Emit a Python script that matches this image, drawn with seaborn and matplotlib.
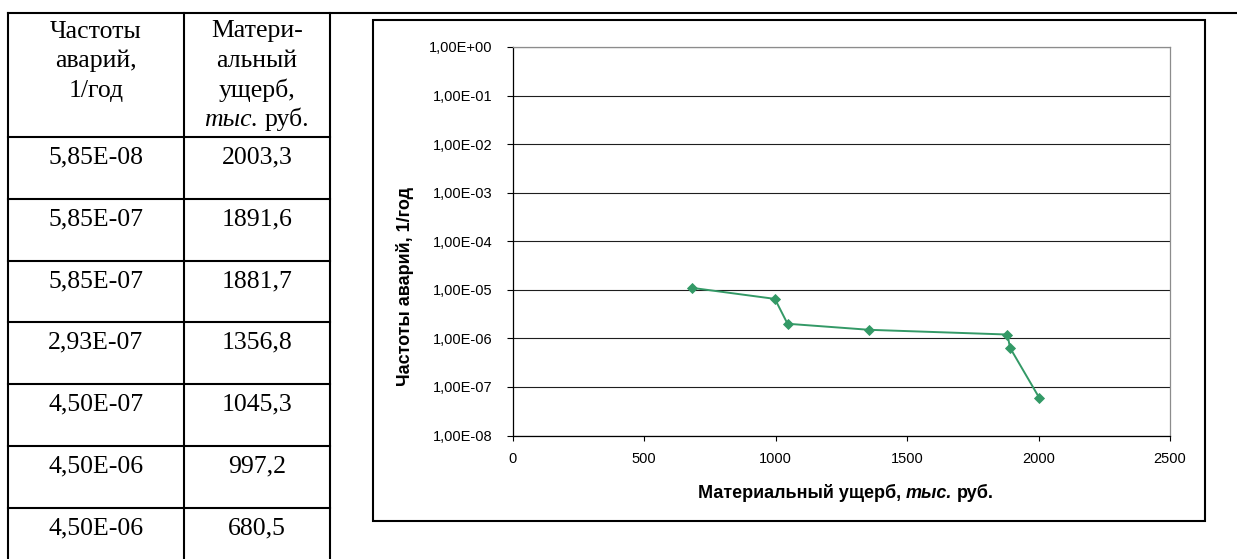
import matplotlib
matplotlib.use("Agg")
import matplotlib.pyplot as plt
import seaborn as sns
from matplotlib.lines import Line2D
from matplotlib.patches import Rectangle
from matplotlib.ticker import FixedLocator, FuncFormatter, NullLocator

# ---------------- data ----------------
table_freq = [5.85e-8, 5.85e-7, 5.85e-7, 2.93e-7, 4.50e-7, 4.50e-6, 4.50e-6]
table_damage = [2003.3, 1891.6, 1881.7, 1356.8, 1045.3, 997.2, 680.5]
header_freq = ["Частоты", "аварий,", "1/год"]
header_damage = ["Матери-", "альный", "ущерб,"]
header_damage_last = [("тыс.", "italic"), ("руб.", "normal")]

curve_damage = [680.5, 997.2, 1045.3, 1356.8, 1881.7, 1891.6, 2003.3]
curve_freq = [1.1e-5, 6.5e-6, 2.0e-6, 1.5e-6, 1.2e-6, 6.4e-7, 5.9e-8]

y_ticks = [1e-8, 1e-7, 1e-6, 1e-5, 1e-4, 1e-3, 1e-2, 1e-1, 1e0]
x_ticks = [0, 500, 1000, 1500, 2000, 2500]

y_title = "Частоты аварий, 1/год"
x_title_parts = [("Материальный ущерб,", "normal"), ("тыс.", "italic"), ("руб.", "normal")]

GREEN = "#339966"

# ---------------- figure ----------------
sns.set_style("white")
plt.rcParams["font.family"] = ["Liberation Sans", "DejaVu Sans"]

W, H = 1237, 559
fig = plt.figure(figsize=(W / 100, H / 100), dpi=100)
fig.patch.set_facecolor("white")


def fx(x):
    return x / W


def fy(y):
    return 1 - y / H


def hline(x0, x1, y, lw=1.5, color="black"):
    fig.add_artist(Line2D([fx(x0), fx(x1)], [fy(y), fy(y)], transform=fig.transFigure,
                          color=color, lw=lw, solid_capstyle="projecting"))


def vline(x, y0, y1, lw=1.5, color="black"):
    fig.add_artist(Line2D([fx(x), fx(x)], [fy(y0), fy(y1)], transform=fig.transFigure,
                          color=color, lw=lw, solid_capstyle="projecting"))


renderer = fig.canvas.get_renderer()


def text_width(s, **kw):
    t = fig.text(0, 0, s, **kw)
    w = t.get_window_extent(renderer).width
    t.remove()
    return w


def mixed_text(parts, cx, baseline, **kw):
    space = text_width("x x", **kw) - text_width("xx", **kw)
    widths = [text_width(p, style=st, **kw) for p, st in parts]
    total = sum(widths) + space * (len(parts) - 1)
    x = cx - total / 2
    for (p, st), w in zip(parts, widths):
        fig.text(fx(x), fy(baseline), p, style=st, ha="left", va="baseline", **kw)
        x += w + space


# ---------------- table ----------------
tab_left, tab_mid, tab_right = 8, 183.7, 330
tab_top = 13
row_tops = [137, 199, 261, 322, 384, 446, 508]

hline(tab_left, W + 5, tab_top)
for x in (tab_left, tab_mid, tab_right):
    vline(x, tab_top, H + 5)
for y in row_tops:
    hline(tab_left, tab_right, y)

serif = dict(fontfamily=["Liberation Serif", "DejaVu Serif"], fontsize=18.5, color="black")
c1 = (tab_left + tab_mid) / 2
c2 = (tab_mid + tab_right) / 2
hdr_baselines = [37.5, 67, 96.5, 126]
for s, b in zip(header_freq, hdr_baselines):
    fig.text(fx(c1), fy(b), s, ha="center", va="baseline", **serif)
for s, b in zip(header_damage, hdr_baselines):
    fig.text(fx(c2), fy(b), s, ha="center", va="baseline", **serif)
mixed_text(header_damage_last, c2, hdr_baselines[3], **serif)


def fmt_comma(v, nd):
    return f"{v:.{nd}f}".replace(".", ",")


def fmt_sci(v):
    return f"{v:.2E}".replace(".", ",")


for top, f, d in zip(row_tops, table_freq, table_damage):
    fig.text(fx(c1), fy(top + 26), fmt_sci(f), ha="center", va="baseline", **serif)
    fig.text(fx(c2), fy(top + 26), fmt_comma(d, 1), ha="center", va="baseline", **serif)

# ---------------- chart frame ----------------
fig.add_artist(Rectangle((fx(373), fy(521)), (1205 - 373) / W, (521 - 20) / H,
                         transform=fig.transFigure, fill=False, lw=1.5, ec="black"))

# ---------------- plot ----------------
px0, px1, py0, py1 = 512.7, 1170, 47, 435.5
ax = fig.add_axes([fx(px0), fy(py1), (px1 - px0) / W, (py1 - py0) / H])
ax.set_facecolor("white")
ax.set_yscale("log")

sns.lineplot(x=curve_damage, y=curve_freq, ax=ax, color=GREEN, marker="D",
             markersize=5, markeredgecolor=GREEN, markeredgewidth=0.6,
             linewidth=1.4, sort=False, estimator=None, clip_on=False)

ax.set_xlim(0, 2500)
ax.set_ylim(1e-8, 1e0)
ax.xaxis.set_major_locator(FixedLocator(x_ticks))
ax.yaxis.set_major_locator(FixedLocator(y_ticks))
ax.yaxis.set_minor_locator(NullLocator())
ax.xaxis.set_minor_locator(NullLocator())
ax.yaxis.set_major_formatter(FuncFormatter(lambda v, p: fmt_sci(v)))
ax.xaxis.set_major_formatter(FuncFormatter(lambda v, p: f"{int(round(v))}"))

ax.set_axisbelow(True)
ax.yaxis.grid(True, color="#1e1e1e", lw=0.8)
ax.xaxis.grid(False)

for side in ("top", "right"):
    ax.spines[side].set_color("#8c8c8c")
    ax.spines[side].set_linewidth(0.9)
for side in ("left", "bottom"):
    ax.spines[side].set_color("black")
    ax.spines[side].set_linewidth(0.9)

ax.tick_params(axis="y", which="major", left=True, direction="out", length=4.3,
               width=0.8, pad=10.5, labelsize=10.5, colors="black")
ax.tick_params(axis="x", which="major", bottom=True, direction="out", length=3.6,
               width=0.8, pad=8, labelsize=10.5, colors="black")
ax.set_xlabel("")
ax.set_ylabel("")

# axis titles
fig.text(fx(404.5), fy(286), y_title, rotation=90, ha="center", va="center",
         fontsize=13, fontweight="bold", color="black")
mixed_text(x_title_parts, 846, 498, fontsize=13, fontweight="bold", color="black")

fig.savefig("out.png", dpi=100, facecolor="white")
